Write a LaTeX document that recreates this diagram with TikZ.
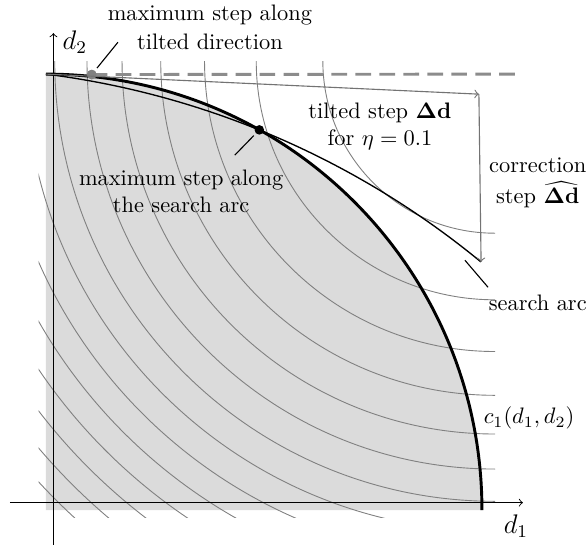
\documentclass[tikz,border=0pt]{standalone}
\usetikzlibrary{calc}
\tikzset{
  level curve/.style={draw=black!50, line width=0.4pt},
  step arrow/.style={->, draw=black!55, line width=0.5pt},
  pointer/.style={draw=black, line width=0.5pt},
  stepdot/.style={circle, fill=#1, inner sep=0pt, minimum size=0.15cm},
  lbl/.style={align=center, inner sep=0pt}
}
\begin{document}
\begin{tikzpicture}[x=0.684cm, y=0.684cm]
  \useasboundingbox (-1.055,-0.85) rectangle (12.41,11.70);

  % Define the points of the construction
  \coordinate (origin) at (0,0);
  \coordinate (start) at (0,10);
  \coordinate (tilt) at (9.93,9.54);
  \coordinate (corr) at (9.98,5.69);
  \coordinate (dashend) at (10.92,10);

  % Feasible region
  \fill[black!14] (origin) -- (10,0) arc[start angle=0, end angle=90, radius=10] -- cycle;

  % Level curves of the objective
  \begin{scope}
    \clip (-0.17,-0.17) rectangle (10.3,10.3);
    \foreach \n [evaluate=\n as \r using {sqrt(15.6+14.4*\n)}] in {0,...,13}
      \draw[level curve] (10.3,10.3) ++(180:\r) arc[start angle=180, end angle=270, radius=\r];
  \end{scope}

  % Axes
  \coordinate (xa) at (-0.83,0.17);
  \coordinate (xb) at (10.94,0.17);
  \coordinate (ya) at (0.17,-0.8);
  \coordinate (yb) at (0.17,10.94);
  \draw[->] (xa) -- (xb);
  \draw[->] (ya) -- (yb);
  \node[font=\large] (d1) at (10.78,-0.36) {$d_1$};
  \node[font=\large] (d2) at (0.66,10.73) {$d_2$};

  % Constraint c_1 and the search arc
  \draw[line width=1.3pt] (start) arc[start angle=90, end angle=0, radius=10];
  \draw[line width=0.6pt] (start) arc[start angle=82.74, end angle=50.55, radius=19.6];

  % Tilted step and correction step
  \node[stepdot=black!50] (tdot) at (1.05,9.99) {};
  \draw[black!45, line width=1.3pt, dash pattern=on 7pt off 3.7pt] (tdot.center) -- (dashend);
  \node[stepdot=black!50] at (tdot) {};
  \draw[step arrow] (start) -- (tilt);
  \draw[step arrow] (tilt) -- (corr);
  \node[stepdot=black] (sdot) at (60.7:10) {};

  % Labels and pointers
  \node[lbl] (tlbl) at (3.76,11.08) {maximum step along\\[1pt] tilted direction};
  \node[lbl] (slbl) at (3.10,7.32) {maximum step along\\ the search arc};
  \node[lbl] (steplbl) at (7.66,8.81) {tilted step $\mathbf{\Delta d}$\\ for $\eta = 0.1$};
  \node[lbl] (corrlbl) at (11.28,7.50) {correction\\[2pt] step $\widehat{\mathbf{\Delta d}}$};
  \node[lbl] (arclbl) at (11.28,4.75) {search arc};
  \node[lbl] (c1lbl) at (11.08,2.11) {$c_1(d_1,d_2)$};

  \coordinate (tptr) at (1.65,10.73);
  \coordinate (sptr) at (4.33,8.14);
  \coordinate (aptr) at (9.61,5.73);
  \coordinate (aptr2) at (10.14,5.11);
  \draw[pointer, shorten <=1.4pt] (tdot) -- (tptr);
  \draw[pointer, shorten <=1.2pt] (sdot) -- (sptr);
  \draw[pointer] (aptr) -- (aptr2);
\end{tikzpicture}
\end{document}
